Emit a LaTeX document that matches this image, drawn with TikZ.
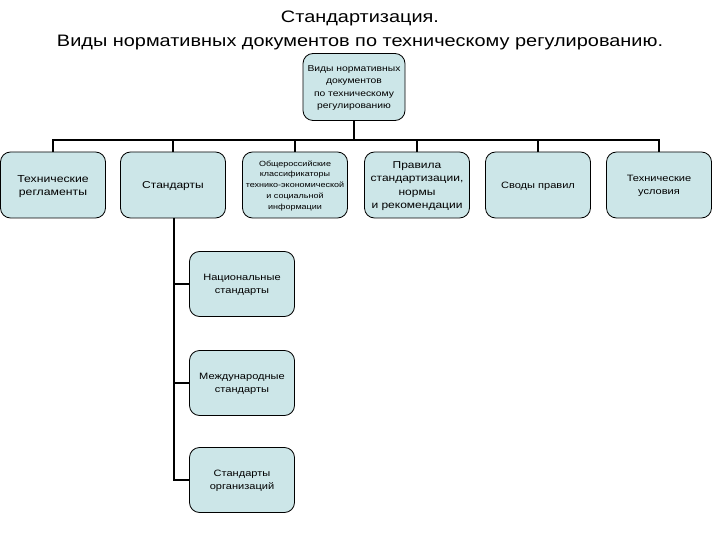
\documentclass[tikz,border=0pt]{standalone}
\usepackage{fontspec}
\setmainfont{Liberation Sans}[FakeStretch=1.2]
\usepackage{xcolor}
\definecolor{boxfill}{RGB}{204,230,232}

\begin{document}
\begin{tikzpicture}[x=1pt,y=-1pt,
  box/.style={draw=black,line width=0.8pt,fill=boxfill,rounded corners=10pt,
    minimum width=105pt,minimum height=66pt,align=center,inner sep=1pt,
    font=\fontsize{10}{13.5}\selectfont,text depth=-10pt},
  mid/.style={font=\fontsize{9.2}{13.3}\selectfont},
  small/.style={font=\fontsize{7.5}{10.8}\selectfont},
  conn/.style={line width=1.8pt}]
\useasboundingbox (0,0) rectangle (720,540);

\node[anchor=base,font=\fontsize{16.6}{20}\selectfont] (title1) at (360,23) {Стандартизация.};
\node[anchor=base,font=\fontsize{16.6}{20}\selectfont] (title2) at (360,47) {Виды нормативных документов по техническому регулированию.};

\node[box,font=\fontsize{8.6}{12.4}\selectfont,minimum width=102pt,minimum height=67pt] (top) at (354,87) {Виды нормативных\\документов\\по техническому\\регулированию};

\node[box,font=\fontsize{10.2}{13}\selectfont] (reg) at (53,185) {Технические\\регламенты};
\node[box] (std) at (173,185) {Стандарты};
\node[box,small] (okl) at (295,185) {Общероссийские\\классификаторы\\технико-экономической\\и социальной\\информации};
\node[box] (prav) at (417,185) {Правила\\стандартизации,\\нормы\\и рекомендации};
\node[box,mid] (svod) at (538,185) {Своды правил};
\node[box,mid] (tu) at (659,185) {Технические\\условия};

\node[box,mid,minimum height=65pt] (nat) at (242,284) {Национальные\\стандарты};
\node[box,mid,minimum height=65pt] (mezh) at (242,383) {Международные\\стандарты};
\node[box,mid,minimum height=65pt] (org) at (242,480) {Стандарты\\организаций};

\coordinate (bus) at (355,140);
\foreach\n in {reg,std,okl,prav,svod,tu}{\draw[conn] (top.south) |- (bus -| \n.north) -- (\n.north);};

\draw[conn] (std.south) ++(1,0) coordinate (stdfoot);
\foreach\n in {nat,mezh,org}{\draw[conn] (stdfoot) |- (\n.west);};
\end{tikzpicture}
\end{document}
